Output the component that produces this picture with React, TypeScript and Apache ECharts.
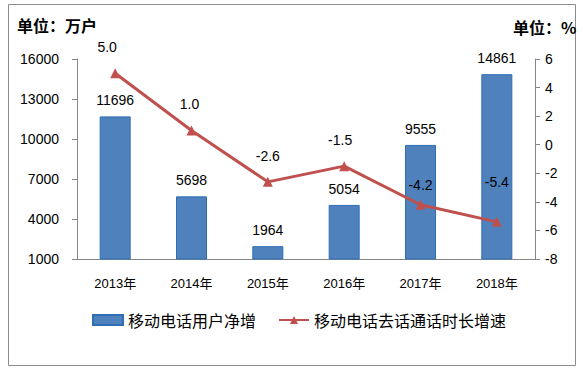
import React, { useEffect, useRef } from "react";
import * as echarts from "echarts";

const categories = ["2013年", "2014年", "2015年", "2016年", "2017年", "2018年"];
const netAdds = [11696, 5698, 1964, 5054, 9555, 14861];
const callGrowth = [5.0, 1.0, -2.6, -1.5, -4.2, -5.4];
const leftTicks = { min: 1000, max: 16000, interval: 3000 };
const rightTicks = { min: -8, max: 6, interval: 2 };
const barName = "移动电话用户净增";
const lineName = "移动电话去话通话时长增速";

const FONT = "'Liberation Sans', 'Noto Sans CJK SC', sans-serif";

export default function App() {
  const ref = useRef<HTMLDivElement>(null);
  useEffect(() => {
    const chart = echarts.init(ref.current!, undefined, { renderer: "svg" });
    const lineOffsets = [[-8, -4], [-2, -4], [0, -4], [-4, -4], [0, 2], [0, -18]];
    chart.setOption({
      animation: false,
      textStyle: { fontFamily: FONT },
      graphic: [
        {
          type: "rect",
          shape: { x: 8.5, y: 4.5, width: 567, height: 361 },
          style: { fill: "none", stroke: "#8c8c8c", lineWidth: 1 },
        },
        {
          type: "text",
          x: 17,
          y: 17,
          style: { text: "单位：万户", font: "bold 16px 'Noto Sans CJK SC', sans-serif", fill: "#000" },
        },
        {
          type: "text",
          x: 513,
          y: 19,
          style: { text: "单位：%", font: "bold 16px 'Noto Sans CJK SC', sans-serif", fill: "#000" },
        },
      ],
      grid: { left: 77, right: 48, top: 59, bottom: 110, containLabel: false },
      legend: {
        bottom: 36,
        left: 87,
        itemGap: 22,
        itemWidth: 30,
        itemHeight: 10,
        textStyle: { fontSize: 16, color: "#000", fontFamily: "'Noto Sans CJK SC', sans-serif" },
        data: [
          { name: barName, icon: "rect" },
          { name: lineName },
        ],
      },
      xAxis: {
        type: "category",
        data: categories,
        boundaryGap: true,
        axisLine: { onZero: false, lineStyle: { color: "#868686" } },
        axisTick: { inside: true, length: 4, lineStyle: { color: "#868686" } },
        axisLabel: { color: "#000", fontSize: 13, margin: 18 },
      },
      yAxis: [
        {
          type: "value",
          ...leftTicks,
          position: "left",
          axisLine: { show: true, lineStyle: { color: "#868686" } },
          axisTick: { show: true, length: 5, lineStyle: { color: "#868686" } },
          axisLabel: { color: "#000", fontSize: 14, margin: 18, formatter: (v: number) => String(v) },
          splitLine: { show: false },
        },
        {
          type: "value",
          ...rightTicks,
          position: "right",
          axisLine: { show: true, lineStyle: { color: "#868686" } },
          axisTick: { show: true, length: 5, lineStyle: { color: "#868686" } },
          axisLabel: { color: "#000", fontSize: 14, margin: 10 },
          splitLine: { show: false },
        },
      ],
      series: [
        {
          name: barName,
          type: "bar",
          data: netAdds,
          barWidth: 31,
          itemStyle: { color: "#4F81BD", borderColor: "#2F6EB5", borderWidth: 1 },
          label: { show: true, position: "top", distance: 9, color: "#000", fontSize: 14 },
        },
        {
          name: lineName,
          type: "line",
          yAxisIndex: 1,
          data: callGrowth.map((v, i) => ({
            value: v,
            label: { offset: lineOffsets[i] },
          })),
          symbol: "triangle",
          symbolSize: 10,
          lineStyle: { color: "#C0504D", width: 3 },
          itemStyle: { color: "#C0504D" },
          label: {
            show: true,
            position: "top",
            distance: 10,
            color: "#000",
            fontSize: 14,
            formatter: (p: any) => Number(p.value).toFixed(1),
          },
        },
      ],
    });
    return () => chart.dispose();
  }, []);
  return (
    <div
      ref={ref}
      style={{ position: "fixed", left: 0, top: 0, width: 583, height: 369, background: "#fff" }}
    />
  );
}
